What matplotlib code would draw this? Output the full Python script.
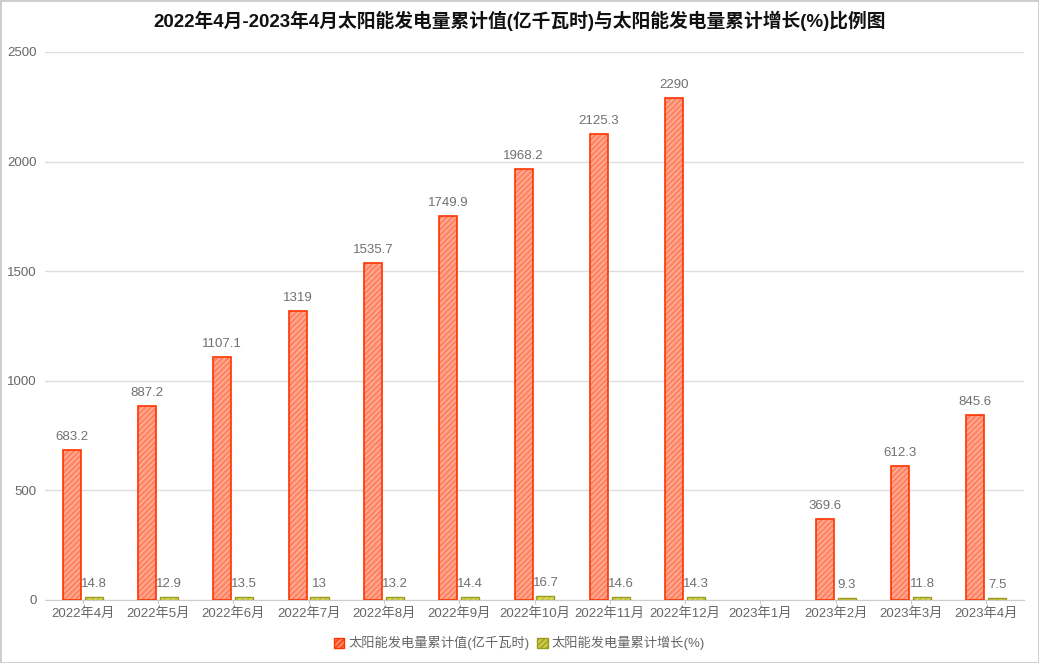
import matplotlib.pyplot as plt
from matplotlib.patches import Patch, Rectangle
import numpy as np

plt.rcParams['font.family'] = ['Liberation Sans', 'Noto Sans CJK SC', 'DejaVu Sans']

months = ['2022年4月', '2022年5月', '2022年6月', '2022年7月', '2022年8月', '2022年9月',
          '2022年10月', '2022年11月', '2022年12月', '2023年1月', '2023年2月', '2023年3月', '2023年4月']
output = [683.2, 887.2, 1107.1, 1319, 1535.7, 1749.9, 1968.2, 2125.3, 2290, None, 369.6, 612.3, 845.6]
output_labels = ['683.2', '887.2', '1107.1', '1319', '1535.7', '1749.9', '1968.2', '2125.3', '2290', '', '369.6', '612.3', '845.6']
growth = [14.8, 12.9, 13.5, 13, 13.2, 14.4, 16.7, 14.6, 14.3, None, 9.3, 11.8, 7.5]
growth_labels = ['14.8', '12.9', '13.5', '13', '13.2', '14.4', '16.7', '14.6', '14.3', '', '9.3', '11.8', '7.5']

name_output = '太阳能发电量累计值(亿千瓦时)'
name_growth = '太阳能发电量累计增长(%)'


def main() -> None:
    fig = plt.figure(figsize=(10.39, 6.63), dpi=100)
    ax = fig.add_axes([45 / 1039, 63 / 663, 979 / 1039, 548 / 663])

    x = np.arange(len(months))
    w = 0.24
    off = 0.145
    out_vals = np.array([np.nan if v is None else v for v in output], dtype=float)
    gr_vals = np.array([np.nan if v is None else v for v in growth], dtype=float)

    red_face = '#ff8566'
    red_hatch = '#ffb8a0'
    red_edge = '#ff3300'
    yel_face = '#cccc44'
    yel_hatch = '#e6e68a'
    yel_edge = '#9a9a20'

    plt.rcParams['hatch.linewidth'] = 0.9
    ax.bar(x - off, out_vals, w, color=red_face, edgecolor=red_hatch, hatch='//////', linewidth=0, zorder=3)
    ax.bar(x - off, out_vals, w, fill=False, edgecolor=red_edge, linewidth=1.2, zorder=4)
    ax.bar(x + off, gr_vals, w, color=yel_face, edgecolor=yel_hatch, hatch='//////', linewidth=0, zorder=3)
    ax.bar(x + off, gr_vals, w, fill=False, edgecolor=yel_edge, linewidth=1.0, zorder=4)

    for i in range(len(months)):
        if output_labels[i]:
            ax.annotate(output_labels[i], (x[i] - off, out_vals[i]), xytext=(0, 5),
                        textcoords='offset points', ha='center', va='bottom',
                        fontsize=9.5, color='#707070')
        if growth_labels[i]:
            ax.annotate(growth_labels[i], (x[i] + off, gr_vals[i]), xytext=(0, 5),
                        textcoords='offset points', ha='center', va='bottom',
                        fontsize=9.5, color='#707070')

    ax.set_xlim(-0.5, len(months) - 0.5)
    ax.set_ylim(0, 2500)
    ax.set_yticks([0, 500, 1000, 1500, 2000, 2500])
    ax.set_xticks(x)
    ax.set_xticklabels(months)
    ax.tick_params(axis='y', length=0, labelsize=9.5, labelcolor='#666666', pad=6)
    ax.tick_params(axis='x', length=3, color='#cccccc', labelsize=9.5, labelcolor='#666666', pad=2)

    ax.grid(True, axis='y', color='#dddddd', linewidth=1, zorder=0)
    for side in ['top', 'right', 'left']:
        ax.spines[side].set_visible(False)
    ax.spines['bottom'].set_color('#cccccc')
    ax.set_axisbelow(True)

    fig.text(0.5, 1 - 21 / 663, '2022年4月-2023年4月太阳能发电量累计值(亿千瓦时)与太阳能发电量累计增长(%)比例图',
             ha='center', va='center', fontsize=13.5, fontweight='bold', color='#111111')

    handles = [Patch(facecolor=red_face, edgecolor=red_edge, hatch='//////', label=name_output),
               Patch(facecolor=yel_face, edgecolor=yel_edge, hatch='//////', label=name_growth)]
    fig.legend(handles=handles, loc='center', bbox_to_anchor=(0.5, 1 - 643 / 663), ncol=2,
               frameon=False, fontsize=9.5, labelcolor='#666666', handlelength=0.8, handleheight=0.8,
               handletextpad=0.3, columnspacing=0.6)

    fig.patches.append(Rectangle((0, 0), 1, 1, transform=fig.transFigure, fill=False,
                                 edgecolor='#cccccc', linewidth=2))

    fig.savefig('out.png', dpi=100)


if __name__ == '__main__':
    main()
